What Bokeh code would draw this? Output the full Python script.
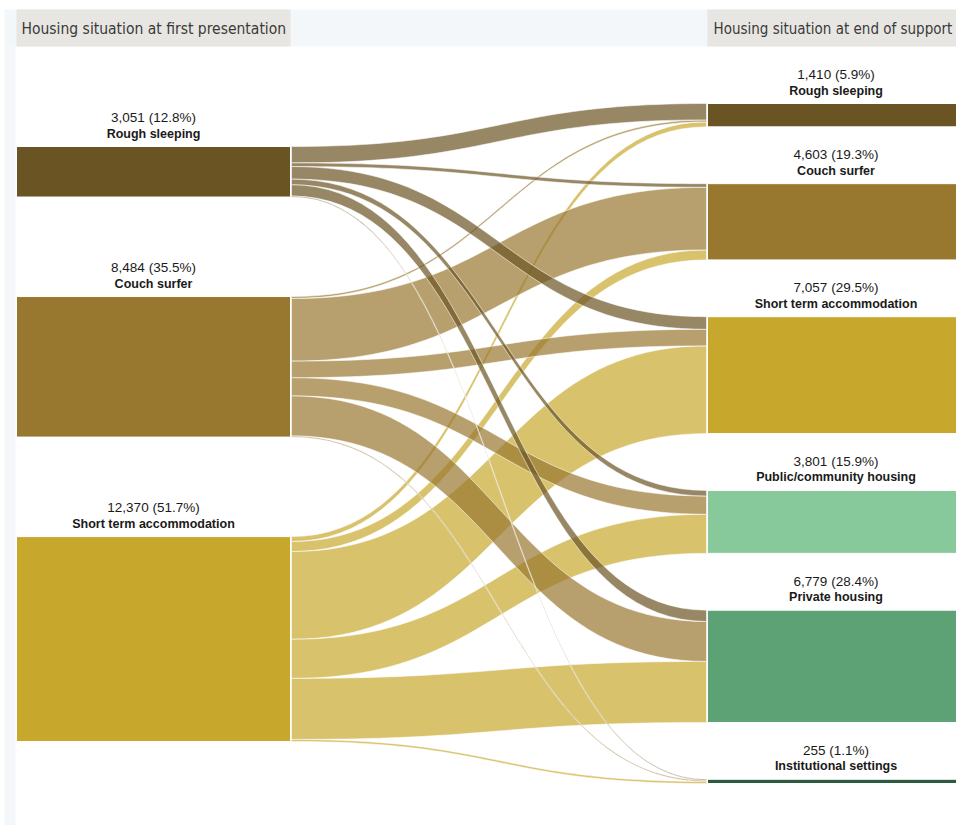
import numpy as np
from bokeh.plotting import figure
from bokeh.models import Range1d, ColumnDataSource
from bokeh.core.properties import value
from bokeh.embed import file_html
from bokeh.resources import INLINE

# ---------------- data ----------------
sources = ["Rough sleeping", "Couch surfer", "Short term accommodation"]
targets = ["Rough sleeping", "Couch surfer", "Short term accommodation",
           "Public/community housing", "Private housing", "Institutional settings"]

# flows[source] -> values per target (same order as targets)
flow_rough = [990, 220, 760, 340, 680, 61]
flow_couch = [120, 3780, 1000, 1100, 2414, 70]
flow_short = [300, 603, 5297, 2361, 3685, 124]
flows = [flow_rough, flow_couch, flow_short]

source_colors = ["#6b5424", "#98782f", "#c7a82d"]
target_colors = ["#6b5424", "#98782f", "#c7a82d", "#88c99c", "#5da274", "#2b5a3e"]

header_left = "Housing situation at first presentation"
header_right = "Housing situation at end of support"

# ---------------- layout ----------------
src_tot = [sum(f) for f in flows]
tgt_tot = [sum(flows[i][j] for i in range(3)) for j in range(len(targets))]
grand = sum(src_tot)

SCALE = 396.0 / grand
LX0, LX1 = 17, 291
RX0, RX1 = 708, 965
L_TOP, L_GAP = 147, 99.5
R_TOP, R_GAP = 104, 56.8

def stack(tots, top, gap):
    pos = []
    y = top
    for t in tots:
        h = t * SCALE
        pos.append((y, y + h))
        y += h + gap
    return pos

lpos = stack(src_tot, L_TOP, L_GAP)
rpos = stack(tgt_tot, R_TOP, R_GAP)

p = figure(width=956, height=825, x_range=Range1d(1, 957), y_range=Range1d(826, 1),
           output_backend="svg", toolbar_location=None, min_border=0,
           background_fill_color="white", border_fill_color="white")
p.outline_line_color = None
p.axis.visible = False
p.grid.visible = False

# header band and left strip
p.quad(left=[5], right=[965], top=[10], bottom=[47], fill_color="#f3f7f9", line_color=None)
p.quad(left=[5], right=[16], top=[47], bottom=[834], fill_color="#f3f7f9", line_color=None)
p.quad(left=[LX0, RX0], right=[LX1, RX1], top=[10, 10], bottom=[47, 47],
       fill_color="#e8e6e2", line_color=None)
p.text(x=[22], y=[29], text=[header_left],
       text_font=value("DejaVu Sans Condensed"), text_font_size="15.5px",
       text_color="#3a3a3a", text_baseline="middle", text_align="left")
p.text(x=[714], y=[29], text=[header_right],
       text_font=value("DejaVu Sans Condensed"), text_font_size="15px",
       text_color="#3a3a3a", text_baseline="middle", text_align="left")

# links
def bez(x0, x1, y0, y1, n=48):
    t = np.linspace(0, 1, n)
    xm = (x0 + x1) / 2.0
    xs = (1 - t) ** 3 * x0 + 3 * (1 - t) ** 2 * t * xm + 3 * (1 - t) * t ** 2 * xm + t ** 3 * x1
    ys = (1 - t) ** 3 * y0 + 3 * (1 - t) ** 2 * t * y0 + 3 * (1 - t) * t ** 2 * y1 + t ** 3 * y1
    return xs, ys

s_off = [lp[0] for lp in lpos]
t_off = [rp[0] for rp in rpos]
link_geo = {}
for i in range(3):
    for j in range(len(targets)):
        h = flows[i][j] * SCALE
        link_geo[(i, j)] = (s_off[i], s_off[i] + h, None)
        s_off[i] += h
for j in range(len(targets)):
    for i in range(3):
        h = flows[i][j] * SCALE
        sy0, sy1, _ = link_geo[(i, j)]
        link_geo[(i, j)] = (sy0, sy1, (t_off[j], t_off[j] + h))
        t_off[j] += h

xs_all, ys_all, cols = [], [], []
for i in [2, 1, 0]:
    for j in range(len(targets)):
        sy0, sy1, (ty0, ty1) = link_geo[(i, j)]
        tx, ty = bez(LX1 + 1, RX0 - 1, sy0, ty0)
        bx, by = bez(LX1 + 1, RX0 - 1, sy1, ty1)
        xs_all.append(list(tx) + list(bx[::-1]))
        ys_all.append(list(ty) + list(by[::-1]))
        cols.append(source_colors[i])
p.patches(xs=xs_all, ys=ys_all, fill_color=cols, fill_alpha=0.7,
          line_color="white", line_alpha=0.7, line_width=0.8)

# nodes
nl = ColumnDataSource(dict(left=[LX0] * 3, right=[LX1] * 3,
                           top=[a for a, b in lpos], bottom=[b for a, b in lpos],
                           color=source_colors))
nr = ColumnDataSource(dict(left=[RX0] * len(targets), right=[RX1] * len(targets),
                           top=[a for a, b in rpos], bottom=[b for a, b in rpos],
                           color=target_colors))
p.quad(left="left", right="right", top="top", bottom="bottom", fill_color="color",
       line_color="white", line_width=1, source=nl)
p.quad(left="left", right="right", top="top", bottom="bottom", fill_color="color",
       line_color="white", line_width=1, source=nr)

# labels
def lab(names, tots, pos, cx):
    vals = [f"{t:,} ({t / grand * 100:.1f}%)" for t in tots]
    p.text(x=[cx] * len(names), y=[a - 29 for a, b in pos], text=vals,
           text_font=value("Liberation Sans"), text_font_size="13.5px",
           text_color="#1a1a1a", text_align="center", text_baseline="middle")
    p.text(x=[cx] * len(names), y=[a - 13 for a, b in pos], text=names,
           text_font=value("Liberation Sans"), text_font_size="12.5px", text_font_style="bold",
           text_color="#1a1a1a", text_align="center", text_baseline="middle")

lab(sources, src_tot, lpos, (LX0 + LX1) / 2)
lab(targets, tgt_tot, rpos, (RX0 + RX1) / 2)

open("out.html", "w").write(file_html(p, INLINE))
